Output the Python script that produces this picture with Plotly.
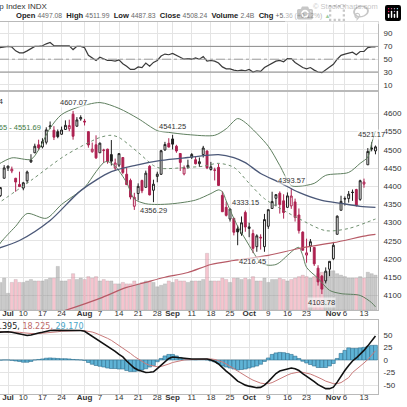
import plotly.graph_objects as go

# trading days on the chart (Jun 28 - Nov 16, 2023)
dates = [
    "2023-06-28", "2023-06-29", "2023-06-30",
    "2023-07-03", "2023-07-05", "2023-07-06", "2023-07-07",
    "2023-07-10", "2023-07-11", "2023-07-12", "2023-07-13", "2023-07-14",
    "2023-07-17", "2023-07-18", "2023-07-19", "2023-07-20", "2023-07-21",
    "2023-07-24", "2023-07-25", "2023-07-26", "2023-07-27", "2023-07-28",
    "2023-07-31", "2023-08-01", "2023-08-02", "2023-08-03", "2023-08-04",
    "2023-08-07", "2023-08-08", "2023-08-09", "2023-08-10", "2023-08-11",
    "2023-08-14", "2023-08-15", "2023-08-16", "2023-08-17", "2023-08-18",
    "2023-08-21", "2023-08-22", "2023-08-23", "2023-08-24", "2023-08-25",
    "2023-08-28", "2023-08-29", "2023-08-30", "2023-08-31", "2023-09-01",
    "2023-09-05", "2023-09-06", "2023-09-07", "2023-09-08",
    "2023-09-11", "2023-09-12", "2023-09-13", "2023-09-14", "2023-09-15",
    "2023-09-18", "2023-09-19", "2023-09-20", "2023-09-21", "2023-09-22",
    "2023-09-25", "2023-09-26", "2023-09-27", "2023-09-28", "2023-09-29",
    "2023-10-02", "2023-10-03", "2023-10-04", "2023-10-05", "2023-10-06",
    "2023-10-09", "2023-10-10", "2023-10-11", "2023-10-12", "2023-10-13",
    "2023-10-16", "2023-10-17", "2023-10-18", "2023-10-19", "2023-10-20",
    "2023-10-23", "2023-10-24", "2023-10-25", "2023-10-26", "2023-10-27",
    "2023-10-30", "2023-10-31", "2023-11-01", "2023-11-02", "2023-11-03",
    "2023-11-06", "2023-11-07", "2023-11-08", "2023-11-09", "2023-11-10",
    "2023-11-13", "2023-11-14", "2023-11-15", "2023-11-16",
]

tick_dates = ["2023-07-03", "2023-07-10", "2023-07-17", "2023-07-24", "2023-08-01",
              "2023-08-07", "2023-08-14", "2023-08-21", "2023-08-28", "2023-09-01",
              "2023-09-11", "2023-09-18", "2023-09-25", "2023-10-02", "2023-10-09",
              "2023-10-16", "2023-10-23", "2023-11-01", "2023-11-06", "2023-11-13"]
tick_text = ["<b>Jul</b>", "10", "17", "24", "<b>Aug</b>", "7", "14", "21", "28", "<b>Sep</b>",
             "11", "18", "25", "<b>Oct</b>", "9", "16", "23", "<b>Nov</b>", "6", "13"]

close_before = 4378.41  # Jun 27 close, colours the first candle

opens = [4367, 4374, 4422, 4450, 4442, 4422, 4405, 4395, 4415, 4467,
         4492, 4514, 4508, 4521, 4563, 4554, 4550, 4543, 4556, 4558,
         4598, 4565, 4585, 4579, 4550, 4495, 4514, 4492, 4498, 4502,
         4487, 4450, 4458, 4479, 4433, 4416, 4345, 4380, 4416, 4397,
         4455, 4389, 4427, 4433, 4500, 4518, 4530, 4510, 4490, 4434,
         4452, 4480, 4473, 4462, 4487, 4497, 4446, 4445, 4452, 4375,
         4342, 4310, 4312, 4283, 4270, 4328, 4284, 4270, 4234, 4260,
         4234, 4290, 4339, 4367, 4381, 4360, 4342, 4346, 4357, 4321,
         4274, 4211, 4236, 4232, 4175, 4153, 4140, 4172, 4201, 4268,
         4334, 4365, 4366, 4384, 4391, 4364, 4406, 4459, 4505, 4497.08]
highs = [4390, 4398, 4458, 4456, 4454, 4423, 4440, 4412, 4443, 4488,
         4517, 4528, 4532, 4562, 4578, 4565, 4556, 4564, 4581, 4583,
         4607.07, 4590, 4595, 4585, 4551, 4520, 4540, 4520, 4503, 4503,
         4527, 4476, 4491, 4479, 4450, 4421, 4382, 4408, 4418, 4443,
         4458, 4418, 4440, 4500, 4522, 4532, 4541.25, 4514, 4491, 4457,
         4473, 4491, 4481, 4479, 4511, 4498, 4467, 4451, 4462, 4386,
         4358, 4338, 4313, 4292, 4317, 4333.15, 4300, 4281, 4268, 4268,
         4324, 4336, 4385, 4378, 4386, 4378, 4383, 4393.57, 4366, 4339,
         4276, 4256, 4255, 4233, 4183, 4156, 4177, 4194, 4246, 4320,
         4374, 4372, 4387, 4391, 4393, 4418, 4421, 4505, 4521.17, 4511.99]
lows = [4360, 4371, 4422, 4442, 4436, 4385, 4398, 4389, 4408, 4464,
        4491, 4499, 4504, 4515, 4557, 4527, 4532, 4541, 4555, 4551,
        4528, 4564, 4580, 4567, 4506, 4492, 4475, 4492, 4464, 4462,
        4457, 4443, 4453, 4433, 4404, 4364, 4335, 4361, 4381, 4397,
        4375, 4356.29, 4411, 4431, 4497, 4507, 4501, 4492, 4442, 4430,
        4448, 4475, 4460, 4453, 4479, 4447, 4443, 4416, 4402, 4330,
        4317, 4303, 4265, 4238, 4264, 4275, 4260, 4216.45, 4220, 4226,
        4220, 4283, 4339, 4345, 4325, 4311, 4342, 4338, 4303, 4270,
        4224, 4190, 4220, 4181, 4127, 4103.78, 4133, 4153, 4197, 4268,
        4334, 4347, 4355, 4360, 4344, 4360, 4396, 4459, 4496, 4487.83]
closes = [4376.86, 4396.44, 4450.38, 4455.59, 4446.82, 4411.59, 4398.95, 4409.53, 4439.26, 4472.16,
          4510.04, 4505.42, 4522.79, 4554.98, 4565.72, 4534.87, 4536.34, 4554.64, 4567.46, 4566.75,
          4537.41, 4582.23, 4588.96, 4576.73, 4513.39, 4501.89, 4478.03, 4518.44, 4499.38, 4467.71,
          4468.83, 4464.05, 4489.72, 4437.86, 4404.33, 4370.36, 4369.71, 4399.77, 4387.55, 4436.01,
          4376.31, 4405.71, 4433.31, 4497.63, 4514.87, 4507.66, 4515.77, 4496.83, 4465.48, 4451.14,
          4457.49, 4487.46, 4461.90, 4467.44, 4505.10, 4450.32, 4453.53, 4443.95, 4402.20, 4330.00,
          4320.06, 4337.44, 4273.53, 4274.51, 4299.70, 4288.05, 4288.39, 4229.45, 4263.75, 4258.19,
          4308.50, 4335.66, 4358.24, 4376.95, 4349.61, 4327.78, 4373.63, 4373.20, 4314.60, 4278.00,
          4224.16, 4217.04, 4247.68, 4186.77, 4137.23, 4117.37, 4166.82, 4193.80, 4237.86, 4317.78,
          4358.34, 4365.98, 4378.38, 4382.78, 4347.35, 4415.24, 4411.55, 4495.70, 4502.88, 4508.24]

# volume, billions
volume = [2.0, 1.9, 2.2, 1.15, 1.9, 2.1, 1.9, 1.9, 2.0, 2.1,
          2.0, 2.0, 2.0, 2.1, 2.2, 2.2, 3.0, 2.0, 2.0, 2.1,
          2.5, 2.1, 2.2, 2.1, 2.3, 2.2, 2.3, 2.0, 2.1, 2.0,
          2.0, 1.8, 1.8, 1.9, 1.8, 1.8, 2.0, 1.8, 1.9, 2.0,
          2.0, 1.9, 1.6, 1.7, 1.8, 2.0, 1.9, 2.1, 2.0, 2.0,
          1.9, 2.0, 2.0, 2.0, 2.1, 3.9, 2.0, 2.0, 2.0, 2.2,
          2.1, 1.9, 2.2, 2.2, 2.1, 2.2, 2.1, 2.3, 2.0, 2.0,
          2.2, 1.9, 2.1, 2.1, 2.2, 2.1, 2.0, 2.1, 2.2, 2.3,
          2.4, 2.3, 2.2, 2.3, 2.5, 2.6, 2.6, 2.7, 2.7, 2.5,
          2.4, 2.3, 2.2, 2.2, 2.2, 2.3, 2.2, 2.6, 2.5, 2.4]

rsi = [67, 68, 70, 70, 69, 63, 60, 60, 63, 66,
       70, 70, 71, 74, 76, 71, 71, 70, 71, 71,
       65, 70, 70, 68, 56, 52, 48, 53, 50, 48,
       48, 47, 49, 43, 39, 34, 34, 38, 37, 44,
       39, 45, 48, 55, 58, 57, 59, 56, 53, 50,
       51, 50, 52, 50, 54, 47, 48, 47, 44, 38,
       35, 35, 33, 32, 33, 32, 34, 30, 32, 31,
       37, 40, 44, 47, 48, 46, 51, 51, 45, 41,
       37, 35, 37, 33, 30, 29, 33, 37, 42, 50,
       56, 58, 60, 61, 57, 62, 62, 68, 69, 69]

macd = [55, 55.5, 56, 56, 55, 53.5, 52, 49.5, 48.5, 49.5,
        52, 53.5, 55, 57, 58.5, 59, 59, 59.5, 60, 60,
        59.5, 59, 58.5, 57, 52, 47, 42, 37.5, 33, 27,
        22, 17, 11, 6, -2, -10, -16, -20, -23, -25,
        -24.5, -23.5, -17, -10, -3, 3, 6, 5, 3.5, 2.5,
        2, 2, 2, 2.5, 3, 2, 0, -3, -8, -16,
        -22, -28, -35, -42, -46, -50, -52, -54, -55, -54.5,
        -50, -43, -34, -27, -22, -19.5, -17, -16, -17.5, -21,
        -27, -32, -37, -43, -49, -53, -57, -57, -54, -44,
        -32, -21, -11, -2, 4, 11, 19, 28, 38, 47.395]
signal = [56, 56, 56, 56, 55.8, 55.5, 55, 54, 53, 52.5,
          52, 52.5, 53, 53.5, 54.5, 55.5, 56, 57, 57.5, 58,
          58.5, 58.5, 58.5, 58, 57, 55.5, 53, 50, 47, 43,
          39, 34, 29, 24, 19, 13, 7, 2, -3, -7.5,
          -10.5, -12.5, -13.5, -13, -11, -8, -5, -3, -1.5, 0,
          0.5, 1, 1.5, 1.5, 2, 2, 2, 1, -1, -4,
          -8, -12, -17, -22, -27, -32, -36, -40, -43, -46,
          -47, -47, -45, -41, -37, -34, -30, -27, -25, -24,
          -24.5, -26, -28, -31, -34, -38, -42, -45, -47, -47,
          -45, -40, -35, -25, -19, -13, -6, 1, 9, 18.225]
hist = [-1, -0.5, 0, 0, -0.8, -2, -3, -4.5, -4.5, -3,
        0, 1, 2, 3.5, 4, 3.5, 3, 2.5, 2.5, 2,
        1, 0.5, 0, -1, -5, -8.5, -11, -12.5, -14, -16,
        -17, -17, -18, -18, -21, -23, -23, -22, -20, -17.5,
        -14, -11, -3.5, 3, 8, 11, 11, 8, 5, 2.5,
        1.5, 1, 0.5, 1, 1, 0, -2, -4, -7, -12,
        -14, -16, -18, -20, -19, -18, -16, -14, -12, -8.5,
        -3, 4, 11, 14, 15, 14.5, 13, 11, 7.5, 3,
        -2.5, -6, -9, -12, -15, -15, -15, -12, -7, 3,
        13, 19, 24, 23, 23, 24, 25, 27, 29, 29.17]

# overlay lines at sample days (index into dates)
bb_up_days = [0, 4, 9, 11, 14, 17, 21, 27, 32, 37, 42, 45, 50, 57, 60, 63, 65,
              71, 74, 77, 79, 83, 86, 92, 95, 97, 98, 99]
bb_up_vals = [4457, 4478, 4474, 4500, 4560, 4597, 4616, 4630, 4614, 4586, 4553, 4548,
              4542, 4540, 4558, 4586, 4575, 4510, 4457, 4402, 4400, 4408, 4430, 4438,
              4463, 4480, 4518, 4551.69]
bb_mid_days = [0, 9, 18, 27, 30, 32, 37, 41, 43, 50, 54, 58, 62, 66, 70, 79, 86, 92, 98, 99]
bb_mid_vals = [4350, 4416, 4485, 4534, 4540, 4534, 4493, 4457, 4449, 4452, 4455, 4463,
               4452, 4408, 4366, 4311, 4278, 4284, 4306, 4310]
bb_lo_days = [0, 1, 3, 5, 8, 13, 17, 23, 26, 28, 29, 31, 34, 36, 39, 42, 46, 52, 56, 58,
              59, 60, 61, 63, 65, 67, 69, 71, 73, 74, 76, 78, 79, 80, 81, 84, 87, 90,
              95, 98, 99]
bb_lo_vals = [4225, 4244, 4268, 4290, 4325, 4312, 4350, 4397, 4440, 4465, 4468, 4455,
              4410, 4365, 4352, 4350, 4352, 4362, 4380, 4390, 4385, 4360, 4335, 4290,
              4255, 4220, 4190, 4183, 4185, 4191, 4210, 4228, 4232, 4210, 4177, 4147,
              4114, 4105, 4100, 4080, 4068.65]
ma50_days = [0, 6, 14, 22, 30, 36, 43, 50, 58, 62, 65, 69, 74, 79, 85, 90, 95, 99]
ma50_vals = [4228, 4251, 4306, 4388, 4440, 4457, 4471, 4479, 4487, 4479, 4465, 4435,
             4410, 4383, 4361, 4353, 4345, 4342]
ma200_days = [0, 18, 27, 34, 39, 44, 50, 56, 62, 71, 79, 88, 97, 99]
ma200_vals = [4000, 4059, 4092, 4122, 4136, 4150, 4163, 4185, 4196, 4210, 4229, 4245,
              4265, 4268]

# swing labels printed on the chart
high_label_days = [20, 46, 65, 77, 98]
low_label_days = [41, 67, 85]

RED = "#ad2150"
BLACK = "#1e1e1e"
GRID = "#e4e4e4"
BORDER = "#b9b9b9"
FONT = "Liberation Sans, Arial, sans-serif"
W = H = 407
XR = 378 / W
x_range = [0.91, 99.66]


def pick(vals, idx):
    return [vals[i] for i in idx]


def prow(px):
    return 1 - px / H


prev = [close_before] + closes[:-1]
up_days = [i for i in range(len(dates)) if closes[i] >= prev[i]]
dn_days = [i for i in range(len(dates)) if closes[i] < prev[i]]

fig = go.Figure()

# volume sits on the base axis of the price panel so candles draw over it
vol_colors = ["rgba(236,150,168,0.55)" if closes[i] < prev[i] else "rgba(150,150,150,0.5)"
              for i in range(len(dates))]
fig.add_trace(go.Bar(x=dates, y=volume, width=0.86, xaxis="x2", yaxis="y2",
                     marker=dict(color=vol_colors, line=dict(color="rgba(120,120,120,0.35)", width=0.5)),
                     hoverinfo="skip"))

line_specs = [
    (bb_up_days, bb_up_vals, dict(color="#5f7f5f", width=1)),
    (bb_lo_days, bb_lo_vals, dict(color="#5f7f5f", width=1)),
    (bb_mid_days, bb_mid_vals, dict(color="#6f8f6f", width=1, dash="dot")),
    (ma200_days, ma200_vals, dict(color="#b75a66", width=1.2)),
    (ma50_days, ma50_vals, dict(color="#4b5878", width=1.3)),
]
for days, vals, ln in line_specs:
    fig.add_trace(go.Scatter(x=pick(dates, days), y=vals, mode="lines", xaxis="x2", yaxis="y3",
                             line=dict(shape="spline", smoothing=0.8, **ln), hoverinfo="skip"))

for days, col in [(up_days, BLACK), (dn_days, RED)]:
    fig.add_trace(go.Candlestick(
        x=pick(dates, days), open=pick(opens, days), high=pick(highs, days),
        low=pick(lows, days), close=pick(closes, days), xaxis="x2", yaxis="y3",
        increasing=dict(line=dict(color=col, width=1), fillcolor="white"),
        decreasing=dict(line=dict(color=col, width=1), fillcolor=col),
        whiskerwidth=0, hoverinfo="skip"))

# RSI panel
fig.add_trace(go.Scatter(x=dates, y=rsi, mode="lines", xaxis="x", yaxis="y",
                         line=dict(color="#3a3a3a", width=1.2), hoverinfo="skip"))

# MACD panel
fig.add_trace(go.Bar(x=dates, y=hist, width=1.0, xaxis="x3", yaxis="y4",
                     marker=dict(color="#5fb3d6", line=dict(color="#2f6f8f", width=0.6)),
                     hoverinfo="skip"))
fig.add_trace(go.Scatter(x=dates, y=signal, mode="lines", xaxis="x3", yaxis="y4",
                         line=dict(color="#c97a7a", width=1), hoverinfo="skip"))
fig.add_trace(go.Scatter(x=dates, y=macd, mode="lines", xaxis="x3", yaxis="y4",
                         line=dict(color="#111111", width=1.6), hoverinfo="skip"))

xcommon = dict(type="category", categoryorder="array", categoryarray=dates, range=x_range,
               domain=[0, XR], showgrid=True, gridcolor=GRID, gridwidth=1,
               tickvals=tick_dates, ticktext=tick_text, ticks="", tickangle=0,
               tickfont=dict(size=8, color="#333", family=FONT), ticklabelstandoff=-5,
               showline=True, mirror=True, linecolor=BORDER, linewidth=1,
               rangeslider=dict(visible=False), fixedrange=True, automargin=False)
ycommon = dict(side="right", showgrid=True, gridcolor=GRID, gridwidth=1, ticks="",
               tickfont=dict(size=8, color="#333", family=FONT), ticklabelstandoff=3,
               showline=True, mirror=True, linecolor=BORDER, linewidth=1,
               zeroline=False, fixedrange=True, automargin=False)

fig.update_layout(
    width=W, height=H, margin=dict(l=0, r=0, t=0, b=0, autoexpand=False),
    paper_bgcolor="white", plot_bgcolor="white", showlegend=False,
    font=dict(family=FONT, size=8, color="#333"),
    boxmode="overlay",
    xaxis=dict(xcommon, anchor="y", showticklabels=False),
    xaxis2=dict(xcommon, anchor="y2", matches="x", showticklabels=True),
    xaxis3=dict(xcommon, anchor="y4", matches="x", showticklabels=True),
    yaxis=dict(ycommon, domain=[prow(90), prow(22)], anchor="x", range=[2, 108],
               tickvals=[10, 30, 50, 70, 90]),
    yaxis2=dict(domain=[prow(310), prow(92)], anchor="x2", range=[0, 15], visible=False,
                fixedrange=True),
    yaxis3=dict(ycommon, overlaying="y2", anchor="x2", range=[4060, 4659],
                tickvals=list(range(4100, 4601, 50))),
    yaxis4=dict(ycommon, domain=[prow(394), prow(320)], anchor="x3", range=[-67.6, 79.4],
                tickvals=[-50, -25, 0, 25, 50], ticktext=["-50", "-25", "0", "25", "50"]),
)

# RSI reference lines
fig.add_shape(type="line", xref="x domain", yref="y", x0=0, x1=1, y0=70, y1=70,
              line=dict(color="#8c8c8c", width=1))
fig.add_shape(type="line", xref="x domain", yref="y", x0=0, x1=1, y0=30, y1=30,
              line=dict(color="#8c8c8c", width=1))
fig.add_shape(type="line", xref="x domain", yref="y", x0=0, x1=1, y0=50, y1=50,
              line=dict(color="#a0a0a0", width=1, dash="dashdot"))

# header: bold labels, smaller grey values
chg = closes[-1] - closes[-2]
pct = chg / closes[-2] * 100
val = "<span style='color:#6a6a6a;font-size:6.8px;font-weight:normal'>{}</span>"
gap = "&nbsp; "
parts = [("Open", f"{opens[-1]:.2f}"), ("High", f"{highs[-1]:.2f}"),
         ("Low", f"{lows[-1]:.2f}"), ("Close", f"{closes[-1]:.2f}"),
         ("Volume", f"{volume[-1]:.1f}B"), ("Chg", f"{chg:+.2f} ({pct:+.2f}%)")]
header = gap.join(f"<b>{k}</b> " + val.format(v) for k, v in parts)
header += " <span style='color:#3a9a3a;font-size:6px'>▲</span>"
fig.add_annotation(xref="paper", yref="paper", x=14 / W, y=prow(16), xanchor="left",
                   yanchor="middle", text=header, showarrow=False,
                   font=dict(size=7.6, color="#222", family=FONT))
fig.add_annotation(xref="paper", yref="paper", x=49 / W, y=prow(6), xanchor="right",
                   yanchor="middle", text="$SPX S&amp;P 500 Large Cap Index INDX", showarrow=False,
                   font=dict(size=8, color="#333", family=FONT))
fig.add_annotation(xref="paper", yref="paper", x=380 / W, y=prow(6), xanchor="right",
                   yanchor="middle", text="© StockCharts.com", showarrow=False,
                   font=dict(size=7.5, color="#8a8a8a", family=FONT))

# panel legends (cut at the left edge like the source)
fig.add_annotation(xref="paper", yref="paper", x=5 / W, y=prow(102), xanchor="right",
                   yanchor="middle", text=f"$SPX (Daily) {closes[-1]:.2f}", showarrow=False,
                   font=dict(size=8, color="#333", family=FONT))
fig.add_annotation(xref="paper", yref="paper", x=43 / W, y=prow(127), xanchor="right",
                   yanchor="middle",
                   text=f"BB(20,2.0) {bb_lo_vals[-1]:.2f} - {bb_up_vals[-1]:.2f}",
                   showarrow=False, font=dict(size=7.5, color="#3f7a3f", family=FONT))
macd_txt = (f"<span style='color:#222'>MACD(12,26,9) {macd[-1]:.3f},</span> "
            f"<span style='color:#c06a6a'>{signal[-1]:.3f},</span> "
            f"<span style='color:#4aa6c8'>{hist[-1]:.3f}</span>")
fig.add_annotation(xref="paper", yref="paper", x=85 / W, y=prow(326), xanchor="right",
                   yanchor="middle", text=macd_txt, showarrow=False,
                   font=dict(size=8, family="DejaVu Sans, sans-serif"))

# swing high / low labels
for i in high_label_days:
    fig.add_annotation(x=dates[i], y=highs[i], xref="x2", yref="y3", yshift=8,
                       text=f"{highs[i]:.2f}", showarrow=False, bgcolor="rgba(255,255,255,0.6)",
                       font=dict(size=7.5, color="#333", family=FONT), borderpad=0)
for i in low_label_days:
    fig.add_annotation(x=dates[i], y=lows[i], xref="x2", yref="y3", yshift=-8,
                       text=f"{lows[i]:.2f}", showarrow=False, bgcolor="rgba(255,255,255,0.6)",
                       font=dict(size=7.5, color="#333", family=FONT), borderpad=0)

fig.write_html("out.html",
               post_script="document.body.style.margin='0';document.body.style.overflow='hidden';")
